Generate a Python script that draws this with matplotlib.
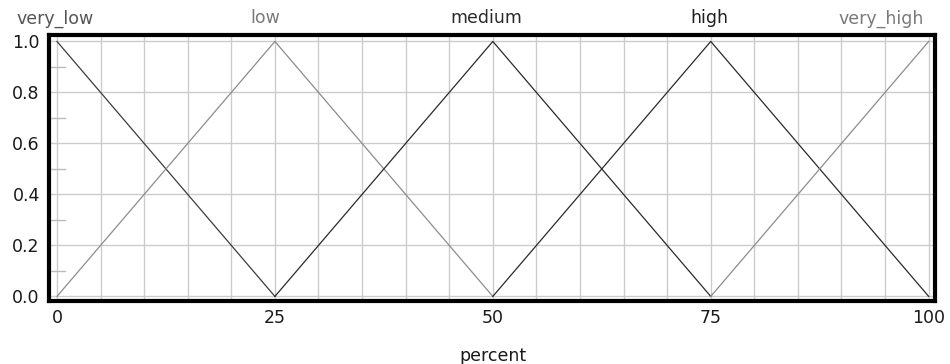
import numpy as np
import matplotlib
matplotlib.use("Agg")
import matplotlib.pyplot as plt
import matplotlib.transforms as mtransforms

# membership functions over "percent"
names = ["very_low", "low", "medium", "high", "very_high"]
x_pts = [
    [0, 25],
    [0, 25, 50],
    [25, 50, 75],
    [50, 75, 100],
    [75, 100],
]
y_pts = [
    [1.0, 0.0],
    [0.0, 1.0, 0.0],
    [0.0, 1.0, 0.0],
    [0.0, 1.0, 0.0],
    [0.0, 1.0],
]
line_colors = ["#3c3c3c", "#8c8c8c", "#2a2a2a", "#2a2a2a", "#8c8c8c"]
label_colors = ["#555555", "#7a7a7a", "#2a2a2a", "#1e1e1e", "#7a7a7a"]
# label anchor (percent) and alignment along the top
label_x = [-4.7, 23.9, 49.3, 74.8, 99.4]
label_ha = ["left", "center", "center", "center", "right"]

x_ticks = [0, 25, 50, 75, 100]
y_ticks = [0.0, 0.2, 0.4, 0.6, 0.8, 1.0]
y_minor = [0.1, 0.3, 0.5, 0.7, 0.9]

plt.rcParams["font.family"] = ["DejaVu Sans"]
fs = 12.5

fig = plt.figure(figsize=(9.5, 3.64), dpi=100)
ax = fig.add_axes([0.0521, 0.1731, 0.9326, 0.7299])

# grid
for gx in np.arange(0, 101, 5):
    ax.axvline(gx, color="#cccccc", lw=1.0, zorder=1)
for gy in y_ticks:
    ax.axhline(gy, color="#cccccc", lw=1.0, zorder=1)
# short minor marks on the left
for my in y_minor:
    ax.plot([-0.9, 0.9], [my, my], color="#bbbbbb", lw=1.0, zorder=1,
            clip_on=False)

for xs, ys, c in zip(x_pts, y_pts, line_colors):
    ax.plot(xs, ys, color=c, lw=0.9, zorder=3)

trans = mtransforms.blended_transform_factory(ax.transData, ax.transAxes)
for nm, lx, ha, c in zip(names, label_x, label_ha, label_colors):
    ax.text(lx, 1.045, nm, transform=trans, ha=ha, va="baseline",
            color=c, fontsize=fs)

ax.set_xlim(-0.86, 100.78)
ax.set_ylim(-0.018, 1.024)
ax.set_xticks(x_ticks)
ax.set_yticks(y_ticks)
ax.set_xticklabels([str(t) for t in x_ticks])
ax.set_yticklabels(["%.1f" % t for t in y_ticks])
ax.tick_params(axis="both", length=0, labelsize=fs, colors="#1a1a1a")
ax.tick_params(axis="y", pad=7)
ax.tick_params(axis="x", pad=6)
ax.set_xlabel("percent", fontsize=fs, color="#1a1a1a", labelpad=14)

for sp in ax.spines.values():
    sp.set_linewidth(3.0)
    sp.set_color("black")

fig.savefig("out.png", dpi=100)
